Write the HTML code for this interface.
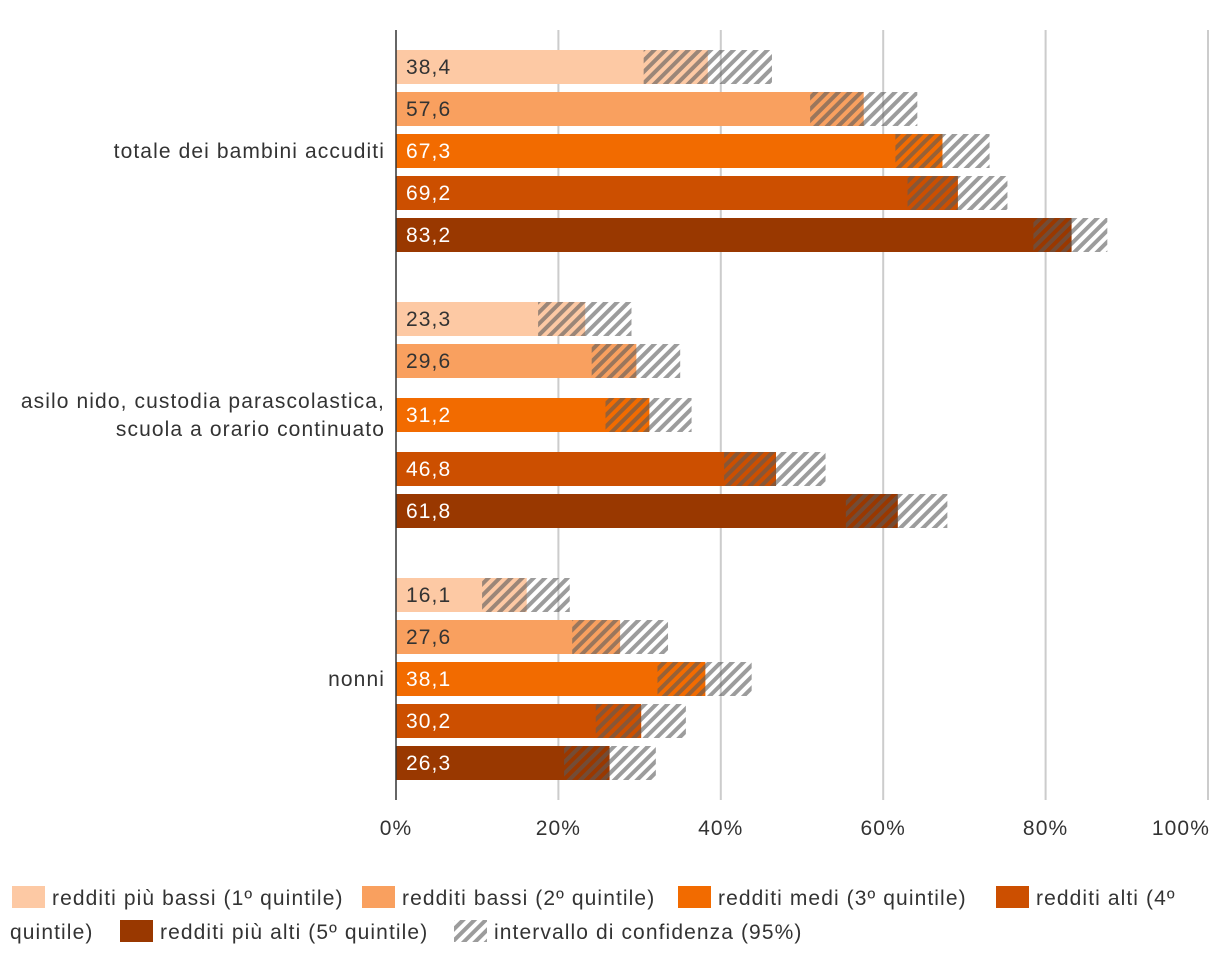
<!DOCTYPE html>
<html><head><meta charset="utf-8"><style>
body{margin:0;background:#fff;font-family:"Liberation Sans",sans-serif;}
svg text{font-family:"Liberation Sans",sans-serif;letter-spacing:1.1px;}
</style></head><body>
<svg id="chart" width="1220" height="964" viewBox="0 0 1220 964">
<defs>
<pattern id="hatch" patternUnits="userSpaceOnUse" width="8" height="8" patternTransform="rotate(45)">
<rect x="0" y="0" width="4" height="8" fill="rgb(90,90,90)" fill-opacity="0.6"/>
</pattern>
</defs>
<g id="grid"></g><g id="bars"></g><g id="axes"></g><g id="legend"></g>
</svg>
<script>
const categories = ["totale dei bambini accuditi", "asilo nido, custodia parascolastica,|scuola a orario continuato", "nonni"];
const seriesNames = ["redditi più bassi (1º quintile)", "redditi bassi (2º quintile)", "redditi medi (3º quintile)", "redditi alti (4º quintile)", "redditi più alti (5º quintile)"];
const values = [[38.4,57.6,67.3,69.2,83.2],[23.3,29.6,31.2,46.8,61.8],[16.1,27.6,38.1,30.2,26.3]];
const lower = [[30.5,51.0,61.5,63.0,78.5],[17.5,24.1,25.8,40.4,55.4],[10.6,21.7,32.2,24.6,20.7]];
const upper = [[46.3,64.2,73.1,75.3,87.6],[29.0,35.0,36.4,52.9,67.9],[21.4,33.5,43.8,35.7,32.0]];
const labels = [["38,4","57,6","67,3","69,2","83,2"],["23,3","29,6","31,2","46,8","61,8"],["16,1","27,6","38,1","30,2","26,3"]];
const ticks = [0,20,40,60,80,100];
const tickLabels = ["0%","20%","40%","60%","80%","100%"];
const colors = ["#fdc9a4","#f9a05f","#f26b00","#cc4f00","#993800"];
const textColors = ["#333","#333","#fff","#fff","#fff"];

const NS="http://www.w3.org/2000/svg";
const x0=396, xScale=812/100;
const X=v=>x0+v*xScale;
const groupTop=[50,302,578], barH=34;
const slotOffsets=[[0,42,84,126,168],[0,42,96,150,192],[0,42,84,126,168]];
const Y=(g,i)=>groupTop[g]+slotOffsets[g][i];
function mk(tag,attrs,parent){const e=document.createElementNS(NS,tag);for(const k in attrs)e.setAttribute(k,attrs[k]);parent.appendChild(e);return e;}
const grid=document.getElementById('grid'),bars=document.getElementById('bars'),axes=document.getElementById('axes'),legend=document.getElementById('legend');

ticks.forEach((t,i)=>{
  if(t>0){const l=mk('line',{x1:X(t),x2:X(t),y1:30,y2:800,stroke:'#ccc','stroke-width':2},grid);
  
  }
  const last=i===ticks.length-1;
  const tx=mk('text',{x:last?X(t)+2:X(t),y:835,'text-anchor':last?'end':'middle','font-size':21,fill:'#333'},axes);
  tx.textContent=tickLabels[i];
  
  
});
const ax=mk('line',{x1:x0,x2:x0,y1:30,y2:800,stroke:'#333','stroke-width':1.5},axes);



categories.forEach((c,g)=>{
  values[g].forEach((v,i)=>{
    const y=Y(g,i);
    const r=mk('rect',{x:X(0),y:y,width:X(v)-X(0),height:barH,fill:colors[i]},bars);
    
    
    const h=mk('rect',{x:X(lower[g][i]),y:y,width:X(upper[g][i])-X(lower[g][i]),height:barH,fill:'url(#hatch)'},bars);
    
    
    const t=mk('text',{x:X(0)+10,y:y+barH/2+7,'font-size':21,fill:textColors[i]},bars);
    t.textContent=labels[g][i];
    
    
  });
  const lines=c.split('|');
  const mid=(Y(g,0)+Y(g,4)+barH)/2;
  lines.forEach((ln,k)=>{
    const t=mk('text',{x:385,y:mid+7+(k-(lines.length-1)/2)*28,'text-anchor':'end','font-size':21,fill:'#333'},axes);
    t.textContent=ln;
    
    
  });
});

const legendItems=[[12,897,0,seriesNames[0]],[362,897,1,seriesNames[1]],[678,897,2,seriesNames[2]],[996,897,3,"redditi alti (4º"],[120,931,4,seriesNames[4]],[454,931,5,"intervallo di confidenza (95%)"]];
legendItems.forEach(([lx,ly,ci,txt])=>{
  const sw=mk('rect',{x:lx,y:ly-11,width:33,height:22,fill:ci<5?colors[ci]:'url(#hatch)'},legend);
  
  
  const t=mk('text',{x:lx+40,y:ly+8,'font-size':21,fill:'#333'},legend);
  t.textContent=txt;
  
  
});
const q=mk('text',{x:10,y:939,'font-size':21,fill:'#333'},legend);
q.textContent="quintile)";


</script>
</body></html>
